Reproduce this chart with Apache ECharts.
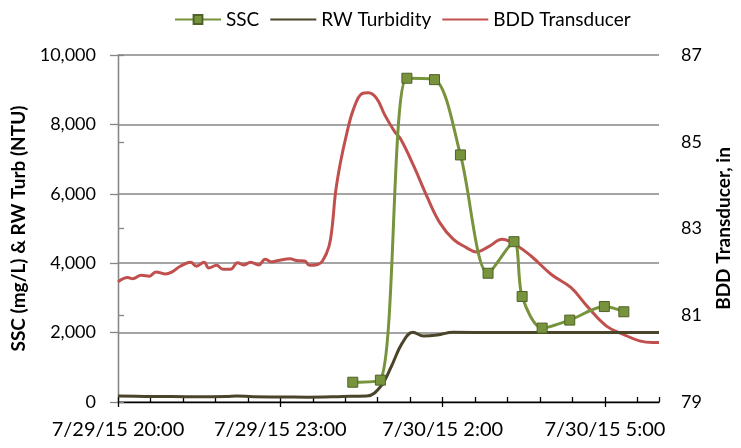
<!DOCTYPE html>
<html>
<head>
<meta charset="utf-8">
<script src="https://cdn.jsdelivr.net/npm/echarts@6.0.0/dist/echarts.min.js"></script>
<style>
    html, body { margin: 0; padding: 0; background: #fff; }
    #chart { width: 741px; height: 448px; }
</style>
</head>
<body>
<div id="chart"></div>
<script>
// x values are hours after 7/29/15 20:00
var xTickLabels = ['7/29/15 20:00', '7/29/15 23:00', '7/30/15 2:00', '7/30/15 5:00'];

var sscHours = [4.34, 4.85, 5.34, 5.85, 6.33, 6.84, 7.32, 7.47, 7.84, 8.35, 8.99, 9.35];
var sscValues = [570, 630, 9330, 9290, 7120, 3710, 4620, 3040, 2130, 2360, 2750, 2600];

var turbHours = [0, 0.5, 1.0, 1.5, 2.0, 2.2, 2.5, 3.0, 3.5, 4.0, 4.3, 4.6, 4.85, 5.05, 5.25, 5.45, 5.65, 5.9, 6.2, 7, 8, 9, 10];
var turbValues = [170, 160, 155, 150, 160, 175, 150, 145, 140, 150, 165, 170, 440, 1015, 1690, 2010, 1900, 1930, 2010, 2000, 2000, 2000, 2000];

var bddHours = [0, 0.18, 0.27, 0.43, 0.58, 0.70, 0.88, 1.00, 1.15, 1.34,
    1.45, 1.59, 1.68, 1.82, 1.94, 2.08, 2.21, 2.32, 2.45, 2.60,
    2.72, 2.84, 2.99, 3.18, 3.30, 3.45, 3.54, 3.69, 3.78, 3.90,
    3.96, 4.02, 4.11, 4.23, 4.35, 4.51, 4.63, 4.78, 4.93, 5.11,
    5.23, 5.47, 5.71, 5.95, 6.20, 6.44, 6.62, 6.86, 7.10, 7.34,
    7.64, 8.01, 8.37, 8.67, 9.03, 9.34, 9.64, 9.88, 10.0];
var bddInches = [81.77, 81.87, 81.84, 81.92, 81.90, 82.00, 81.95, 82.00, 82.13, 82.22,
    82.13, 82.22, 82.09, 82.15, 82.06, 82.06, 82.21, 82.16, 82.22, 82.16,
    82.29, 82.23, 82.27, 82.30, 82.26, 82.25, 82.15, 82.17, 82.25, 82.59,
    83.05, 83.82, 84.51, 85.20, 85.74, 86.11, 86.13, 86.00, 85.62, 85.24,
    85.05, 84.43, 83.74, 83.13, 82.75, 82.56, 82.46, 82.59, 82.75, 82.63,
    82.36, 81.94, 81.64, 81.21, 80.75, 80.56, 80.41, 80.37, 80.37];

function pairs(xs, ys) {
    var out = [];
    for (var i = 0; i < xs.length; i++) {
        out.push([xs[i], ys[i]]);
    }
    return out;
}

var chart = echarts.init(document.getElementById('chart'));
var font = 'Lato';
var gridColor = '#868686';

var option = {
    animation: false,
    textStyle: { fontFamily: font },
    legend: {
        left: 169,
        top: 5,
        itemWidth: 46,
        itemHeight: 11,
        itemGap: 10,
        textStyle: { fontFamily: font, fontSize: 19, color: '#000' },
        data: [
            { name: 'SSC' },
            { name: 'RW Turbidity', itemStyle: { opacity: 0 } },  // plain line, no marker
            { name: 'BDD Transducer', itemStyle: { opacity: 0 } }
        ]
    },
    grid: { left: 118, right: 71, top: 55, bottom: 46 },
    xAxis: [{
        type: 'value',
        position: 'bottom',
        min: 0,
        max: 10,
        interval: 3,
        axisLine: { lineStyle: { color: '#000', width: 1.3 } },
        axisTick: { inside: false, length: 5, lineStyle: { color: '#000', width: 1.3 } },
        axisLabel: {
            margin: 18,
            fontSize: 20,
            color: '#000',
            showMaxLabel: false,
            formatter: function(v) {
                return xTickLabels[Math.round(v / 3)] || '';
            }
        },
        splitLine: { show: false }
    }, {
        // minor ticks every 36 minutes
        type: 'value',
        position: 'bottom',
        min: 0,
        max: 10,
        interval: 0.6,
        axisLine: { show: false },
        axisTick: { inside: true, length: 5, lineStyle: { color: '#000', width: 1.3 } },
        axisLabel: { show: false },
        splitLine: { show: false }
    }],
    yAxis: [{
        type: 'value',
        min: 0,
        max: 10000,
        interval: 2000,
        name: 'SSC (mg/L) & RW Turb (NTU)',
        nameLocation: 'middle',
        nameGap: 90,
        nameTextStyle: { fontFamily: font, fontSize: 19, fontWeight: 'bold', color: '#000' },
        axisLine: { show: true, lineStyle: { color: gridColor, width: 1.3 } },
        axisTick: { show: true, length: 8, lineStyle: { color: gridColor, width: 1.3 } },
        axisLabel: {
            margin: 22,
            fontSize: 18,
            color: '#000',
            formatter: function(v) {
                return v.toLocaleString('en-US');
            }
        },
        splitLine: { lineStyle: { color: gridColor, width: 1.5 } }
    }, {
        type: 'value',
        min: 79,
        max: 87,
        interval: 2,
        position: 'right',
        name: 'BDD Transducer, in',
        nameLocation: 'middle',
        nameGap: 55,
        nameTextStyle: { fontFamily: font, fontSize: 19, fontWeight: 'bold', color: '#000' },
        axisLine: { show: true, lineStyle: { color: gridColor, width: 1.3 } },
        axisTick: { show: true, length: 6, lineStyle: { color: gridColor, width: 1.3 } },
        axisLabel: { margin: 22, fontSize: 18, color: '#000' },
        splitLine: { show: false }
    }],
    series: [{
        name: 'SSC',
        type: 'line',
        xAxisIndex: 0,
        yAxisIndex: 0,
        smooth: 0.3,
        symbol: 'rect',
        symbolSize: 10,
        z: 4,
        lineStyle: { color: '#77933C', width: 3 },
        itemStyle: { color: '#77933C', borderColor: '#4F6228', borderWidth: 1 },
        data: pairs(sscHours, sscValues)
    }, {
        name: 'RW Turbidity',
        type: 'line',
        xAxisIndex: 0,
        yAxisIndex: 0,
        smooth: 0.4,
        showSymbol: false,
        symbol: 'none',
        z: 3,
        lineStyle: { color: '#4A452A', width: 3 },
        itemStyle: { color: '#4A452A' },
        data: pairs(turbHours, turbValues)
    }, {
        name: 'BDD Transducer',
        type: 'line',
        xAxisIndex: 0,
        yAxisIndex: 1,
        smooth: 0.4,
        showSymbol: false,
        symbol: 'none',
        z: 2,
        lineStyle: { color: '#C0504D', width: 3 },
        itemStyle: { color: '#C0504D' },
        data: pairs(bddHours, bddInches)
    }]
};

chart.setOption(option);
</script>
</body>
</html>
